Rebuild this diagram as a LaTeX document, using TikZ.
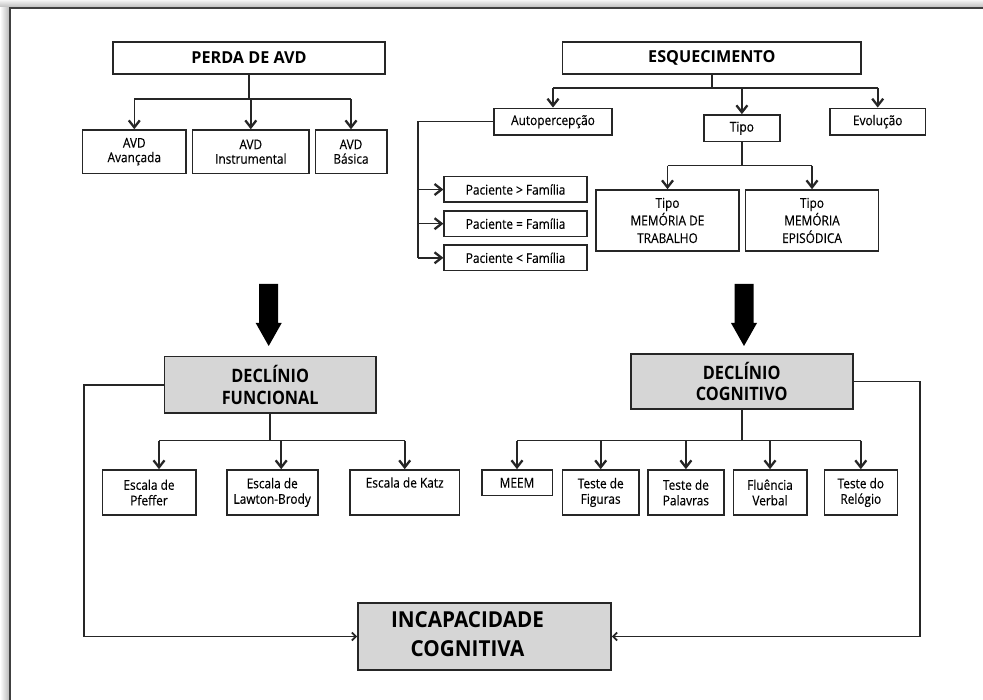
\documentclass[tikz,border=0pt]{standalone}
\usepackage{fontspec}
\setmainfont{Open Sans}[FakeStretch=0.88, UprightFeatures={FakeBold=0.3}, BoldFeatures={FakeBold=0}]
\usetikzlibrary{arrows.meta}
\definecolor{linec}{HTML}{262626}
\definecolor{boxgray}{HTML}{D6D6D6}
\begin{document}
\begin{tikzpicture}[x=1pt,y=-1pt,
  line/.style={draw=linec, line width=1.6pt},
  arr/.style={line, -{Straight Barb[length=7pt,width=11pt,line width=2.3pt]}},
  sarr/.style={draw=linec, line width=1.4pt, -{Straight Barb[length=4pt,width=8pt,line width=1.9pt]}},
  wh/.style 2 args={minimum width=#1, minimum height=#2},
  box/.style={draw=linec, line width=1.6pt, fill=white, inner sep=0pt, align=center,
    font=\fontsize{13.5}{15.5}\selectfont},
  headbox/.style={box, font=\fontsize{16.5}{18}\selectfont\bfseries\addfontfeature{FakeStretch=0.98}},
  graybox/.style={box, fill=boxgray, font=\fontsize{18.5}{21.6}\selectfont\bfseries},
  bigarrow/.style={fill=black}
]
\useasboundingbox (0,0) rectangle (983,700);

% page frame with soft shadow on the top and left edges
\shade[top color=black!4, bottom color=black!28] (0,0) rectangle (983,8);
\shade[left color=white, right color=black!30] (0,8) rectangle (10,700);
\draw[draw=black!75, line width=1.6pt] (10,700) -- (10,8) -- (983,8);

% ---------- PERDA DE AVD ----------
\node[headbox, wh={272}{32}] (perda) at (249,58) {PERDA DE AVD};
\node[box, wh={103.3}{43.3}, font=\fontsize{13.5}{14.5}\selectfont] (avd1) at (134.3,151.7) {AVD\\Avançada};
\node[box, wh={116.3}{43.3}, font=\fontsize{13.5}{14.5}\selectfont] (avd2) at (250.8,151.7) {AVD\\Instrumental};
\node[box, wh={71.4}{43.3}, font=\fontsize{13.5}{14.5}\selectfont] (avd3) at (351,151.7) {AVD\\Básica};
\coordinate (pj) at (249,99.3);
\draw[line] (perda.south) -- (pj);
\draw[line] (avd1.north |- pj) -- (avd3.north |- pj);
\foreach \n in {avd1,avd2,avd3} \draw[arr] (\n.north |- pj) -- (\n.north);

% ---------- ESQUECIMENTO ----------
\node[headbox, wh={298.5}{32}] (esq) at (711.8,58.2) {ESQUECIMENTO};
\node[box, wh={118}{26.7}] (auto) at (553,121.7) {Autopercepção};
\node[box, wh={76.3}{26.7}] (tipo) at (741.9,128.3) {Tipo};
\node[box, wh={95.3}{26.7}] (evol) at (877.7,121.7) {Evolução};
\coordinate (ej) at (711.8,88);
\draw[line] (esq.south) -- (ej);
\draw[line] (auto.north |- ej) -- (evol.north |- ej);
\foreach \n in {auto,tipo,evol} \draw[arr] (\n.north |- ej) -- (\n.north);

% self-perception branch
\node[box, wh={142.8}{25.6}] (pac1) at (515.6,189.5) {Paciente > Família};
\node[box, wh={142.8}{25.6}] (pac2) at (515.6,223.7) {Paciente = Família};
\node[box, wh={142.8}{25.6}] (pac3) at (515.6,257.8) {Paciente < Família};
\coordinate (at) at (417.8,121.7);
\draw[line] (auto.west) -- (at) -- (at |- pac3.west);
\foreach \n in {pac1,pac2,pac3} \draw[arr] (at |- \n.west) -- (\n.west);

% memory type branch
\node[box, wh={143.1}{61}, font=\fontsize{13.5}{17.6}\selectfont] (mt) at (667.5,220.5) {Tipo\\MEMÓRIA DE\\TRABALHO};
\node[box, wh={132.7}{61}, font=\fontsize{13.5}{17.6}\selectfont] (me) at (812,220.5) {Tipo\\MEMÓRIA\\EPISÓDICA};
\coordinate (tj) at (741.9,165.7);
\draw[line] (tipo.south) -- (tj);
\draw[line] (mt.north |- tj) -- (me.north |- tj);
\foreach \n in {mt,me} \draw[arr] (\n.north |- tj) -- (\n.north);

% ---------- bold arrows into the two declines ----------
\begin{scope}[shift={(268.7,284)}]
  \fill[bigarrow] (-9.5,0) -- (9.5,0) -- (9.5,39) -- (13,39) -- (0,62) -- (-13,39) -- (-9.5,39) -- cycle;
\end{scope}
\begin{scope}[shift={(744,284)}]
  \fill[bigarrow] (-9.5,0) -- (9.5,0) -- (9.5,39) -- (13,39) -- (0,62) -- (-13,39) -- (-9.5,39) -- cycle;
\end{scope}

% ---------- DECLÍNIO FUNCIONAL ----------
\node[graybox, wh={211.7}{56.6}] (df) at (270.2,385) {DECLÍNIO\\FUNCIONAL};
\node[box, wh={93.4}{45}] (esc1) at (149,492.5) {Escala de\\Pfeffer};
\node[box, wh={91}{45}] (esc2) at (272.2,492.5) {Escala de\\Lawton-Brody};
\node[box, wh={109.3}{45}] (esc3) at (404.7,492.5) {Escala de Katz\\\strut};
\coordinate (dfj) at (270.2,440.7);
\coordinate (e1a) at ([xshift=10pt]esc1.north);
\coordinate (e2a) at ([xshift=9pt]esc2.north);
\draw[line] (df.south) -- (dfj);
\draw[line] (e1a |- dfj) -- (esc3.north |- dfj);
\draw[arr] (e1a |- dfj) -- (e1a);
\draw[arr] (e2a |- dfj) -- (e2a);
\draw[arr] (esc3.north |- dfj) -- (esc3.north);

% ---------- DECLÍNIO COGNITIVO ----------
\node[graybox, wh={222}{55}] (dc) at (741.7,381.5) {DECLÍNIO\\COGNITIVO};
\node[box, wh={70.6}{25.7}] (meem) at (517,482.8) {MEEM};
\node[box, wh={76.7}{45}] (tf) at (600.7,492.5) {Teste de\\Figuras};
\node[box, wh={76.3}{45}] (tp) at (685.9,492.5) {Teste de\\Palavras};
\node[box, wh={73.4}{45}] (fv) at (770,492.5) {Fluência\\Verbal};
\node[box, wh={73}{45}] (tr) at (860.8,492.5) {Teste do\\Relógio};
\coordinate (dcj) at (741.7,440.7);
\draw[line] (dc.south) -- (dcj);
\draw[line] (meem.north |- dcj) -- (tr.north |- dcj);
\foreach \n in {meem,tf,tp,fv,tr} \draw[arr] (\n.north |- dcj) -- (\n.north);

% ---------- INCAPACIDADE COGNITIVA ----------
\node[box, fill=boxgray, wh={253}{67}, font=\fontsize{22}{29}\selectfont\bfseries\addfontfeature{FakeStretch=0.94}] (ic) at (484.5,636.5)
  {\begin{tabular}{@{}c@{\hspace{34pt}}}INCAPACIDADE\\COGNITIVA\end{tabular}};
\coordinate (lft) at (84,0);
\coordinate (rgt) at (920,0);
\draw[sarr] (df.west) -- (lft |- df.west) -- (lft |- ic.west) -- (ic.west);
\draw[sarr] (dc.east) -- (rgt |- dc.east) -- (rgt |- ic.east) -- (ic.east);
\end{tikzpicture}
\end{document}
